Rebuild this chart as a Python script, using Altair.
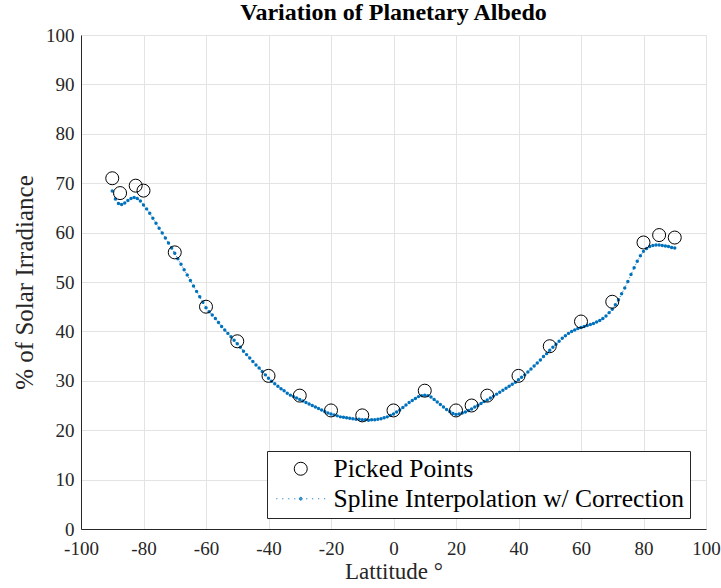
import altair as alt
import pandas as pd

# ---------------- data ----------------
pick_lat = [-90, -87.5, -82.5, -80, -70, -60, -50, -40, -30, -20, -10, 0, 10, 20, 25, 30, 40, 50, 60, 70, 80, 85, 90]
pick_val = [71, 68, 69.5, 68.5, 56, 45, 38, 31, 27, 24, 23, 24, 28, 24, 25, 27, 31, 37, 42, 46, 58, 59.5, 59]

spline_lat = list(range(-90, 91))
spline_val = [
    68.4, 66.8, 65.9, 65.7, 66.0, 66.5, 66.9, 67.1, 66.9, 66.4, 65.6,
    64.8, 63.9, 62.9, 61.9, 60.9, 59.9, 58.9, 57.9, 56.9, 55.8,
    54.7, 53.6, 52.5, 51.4, 50.3, 49.2, 48.1, 47.0, 45.9, 44.8,
    44.0, 43.3, 42.6, 41.8, 41.0, 40.3, 39.6, 38.9, 38.2, 37.5,
    36.8, 36.0, 35.3, 34.6, 33.9, 33.2, 32.6, 31.9, 31.2, 30.5,
    29.9, 29.4, 28.9, 28.4, 28.0, 27.5, 27.1, 26.8, 26.5, 26.2,
    25.9, 25.6, 25.3, 25.0, 24.7, 24.4, 24.1, 23.8, 23.5, 23.3,
    23.1, 22.9, 22.7, 22.6, 22.5, 22.4, 22.3, 22.2, 22.2, 22.1,
    22.1, 22.0, 22.1, 22.1, 22.2, 22.3, 22.5, 22.7, 23.0, 23.3,
    23.7, 24.1, 24.6, 25.1, 25.6, 26.0, 26.4, 26.8, 27.0, 27.1,
    27.0, 26.7, 26.2, 25.7, 25.2, 24.7, 24.2, 23.8, 23.4, 23.2,
    23.3, 23.5, 23.7, 24.0, 24.3, 24.7, 25.0, 25.4, 25.8, 26.1,
    26.5, 26.9, 27.3, 27.7, 28.1, 28.5, 28.9, 29.3, 29.7, 30.2,
    30.7, 31.2, 31.8, 32.4, 33.0, 33.6, 34.2, 34.9, 35.5, 36.2,
    36.8, 37.4, 38.0, 38.6, 39.1, 39.6, 40.0, 40.3, 40.6, 40.8,
    41.0, 41.2, 41.4, 41.6, 41.9, 42.2, 42.6, 43.1, 43.8, 44.5,
    45.4, 46.4, 47.6, 48.8, 50.1, 51.5, 52.9, 54.2, 55.3, 56.2,
    56.8, 57.2, 57.4, 57.5, 57.5, 57.4, 57.3, 57.2, 57.0, 56.9,
]

series_names = ["Picked Points", "Spline Interpolation w/ Correction"]
x_ticks = list(range(-100, 101, 20))
y_ticks = list(range(0, 101, 10))

BLUE = "#0072BD"
INK = "#262626"
FONT = "Liberation Serif"

df_pick = pd.DataFrame({"lat": pick_lat, "val": pick_val, "series": series_names[0]})
df_spline = pd.DataFrame({"lat": spline_lat, "val": spline_val, "series": series_names[1]})

# legend symbol for the dotted spline: small dashes plus a center dot
segs = []
for k in range(-4, 5):
    if k == 0:
        continue
    cx = k * 0.92
    segs.append(f"M{cx - 0.08:.2f},0L{cx + 0.08:.2f},0")
segs.append("M0.22,0A0.22,0.22 0 1,1 -0.22,0A0.22,0.22 0 1,1 0.22,0Z")
segs.append("M0.1,0A0.1,0.1 0 1,1 -0.1,0A0.1,0.1 0 1,1 0.1,0Z")
spline_symbol = "".join(segs)

x_enc = alt.X(
    "lat:Q",
    scale=alt.Scale(domain=[-100, 100], nice=False),
    axis=alt.Axis(
        values=x_ticks, grid=True, gridColor="#e3e3e3", domainColor=INK, ticks=False,
        labelFont=FONT, labelFontSize=19, labelColor=INK, labelPadding=10,
        labelFlush=False, labelOverlap=False, labelExpr="'' + datum.value",
        title="Lattitude °", titleFont=FONT, titleFontSize=23, titleFontWeight="normal",
        titleColor=INK, titlePadding=2,
    ),
)
y_enc = alt.Y(
    "val:Q",
    scale=alt.Scale(domain=[0, 100], nice=False),
    axis=alt.Axis(
        values=y_ticks, grid=True, gridColor="#e3e3e3", domainColor=INK, ticks=False,
        labelFont=FONT, labelFontSize=19, labelColor=INK, labelPadding=7,
        labelFlush=False, labelOverlap=False,
        title="% of Solar Irradiance", titleFont=FONT, titleFontSize=25, titleFontWeight="normal",
        titleColor=INK, titlePadding=8,
    ),
)

line = alt.Chart(df_spline).mark_line(color=BLUE, strokeWidth=1, strokeDash=[1, 2]).encode(x=x_enc, y=y_enc)
dots = alt.Chart(df_spline).mark_point(filled=True, color=BLUE, size=12, opacity=1).encode(x="lat:Q", y="val:Q")
picks = alt.Chart(df_pick).mark_point(filled=False, size=169, strokeWidth=1, opacity=1).encode(
    x="lat:Q",
    y="val:Q",
    color=alt.Color("series:N", scale=alt.Scale(domain=series_names, range=["#000000", BLUE]),
                    legend=alt.Legend(
                        title=None, orient="none", legendX=186, legendY=416,
                        fillColor="white", strokeColor=INK, padding=5,
                        labelFont=FONT, labelFontSize=25.5, labelColor="#000000",
                        symbolSize=169, symbolStrokeWidth=1, rowPadding=3,
                        symbolOffset=16, labelOffset=20, labelLimit=600,
                    )),
    shape=alt.Shape("series:N", scale=alt.Scale(domain=series_names, range=["circle", spline_symbol]),
                    legend=None),
)

chart = alt.layer(line, dots, picks).properties(
    width=625, height=494,
    padding={"left": 81, "top": 35, "right": 15, "bottom": 59},
    autosize="none",
    title=alt.TitleParams("Variation of Planetary Albedo", font=FONT, fontSize=24, fontWeight="bold",
                          anchor="middle", offset=1, color="#000000"),
).configure_view(stroke=None).configure(background="white")

chart.save("out.html", embed_options={"renderer": "svg", "actions": False})
